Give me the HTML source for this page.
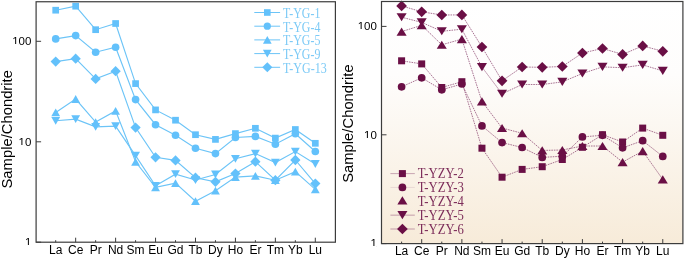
<!DOCTYPE html><html><head><meta charset="utf-8"><title>REE chondrite-normalized patterns</title><style>html,body{margin:0;padding:0;background:#fff;width:685px;height:259px;overflow:hidden}svg{display:block}text{font-family:"Liberation Sans",Arial,sans-serif}.s{font-family:"Liberation Serif","Times New Roman",serif}</style></head><body>
<svg width="685" height="259" viewBox="0 0 685 259">
<defs><linearGradient id="g" x1="0" y1="0" x2="0" y2="1"><stop offset="0" stop-color="#ffffff"/><stop offset="0.3" stop-color="#fefdfc"/><stop offset="1" stop-color="#f7ebd9"/></linearGradient></defs>
<polyline points="55.7,10.2 75.67,6.2 95.64,29.7 115.61,23.5 135.58,83.6 155.55,109.9 175.52,120.2 195.49,134.7 215.46,139.4 235.43,133.6 255.4,128.3 275.37,138.1 295.34,129.5 315.31,143.3" fill="none" stroke="#6cc4f7" stroke-width="1.15"/>
<polyline points="55.7,38.9 75.67,35.6 95.64,52.2 115.61,47.3 135.58,99.6 155.55,124.7 175.52,135.3 195.49,148.2 215.46,153.6 235.43,137.5 255.4,136.4 275.37,144.2 295.34,133.8 315.31,151.5" fill="none" stroke="#6cc4f7" stroke-width="1.15"/>
<polyline points="55.7,112.4 75.67,99 95.64,122.1 115.61,110.9 135.58,161.8 155.55,187.4 175.52,183.1 195.49,201.2 215.46,190.7 235.43,177.1 255.4,175.9 275.37,180.2 295.34,171.6 315.31,189.4" fill="none" stroke="#6cc4f7" stroke-width="1.15"/>
<polyline points="55.7,120.8 75.67,119.1 95.64,126.8 115.61,126.1 135.58,155.6 155.55,185.8 175.52,174.2 195.49,180 215.46,174.5 235.43,158.8 255.4,153.6 275.37,162.6 295.34,151.6 315.31,164" fill="none" stroke="#6cc4f7" stroke-width="1.15"/>
<polyline points="55.7,61.6 75.67,58.7 95.64,78.9 115.61,71.2 135.58,127.6 155.55,157.3 175.52,160.4 195.49,177.7 215.46,181.8 235.43,173.6 255.4,161.7 275.37,180.2 295.34,160 315.31,183.6" fill="none" stroke="#6cc4f7" stroke-width="1.15"/>
<rect x="52.35" y="6.85" width="6.7" height="6.7" fill="#63c1fb"/>
<rect x="72.32" y="2.85" width="6.7" height="6.7" fill="#63c1fb"/>
<rect x="92.29" y="26.35" width="6.7" height="6.7" fill="#63c1fb"/>
<rect x="112.26" y="20.15" width="6.7" height="6.7" fill="#63c1fb"/>
<rect x="132.23" y="80.25" width="6.7" height="6.7" fill="#63c1fb"/>
<rect x="152.2" y="106.55" width="6.7" height="6.7" fill="#63c1fb"/>
<rect x="172.17" y="116.85" width="6.7" height="6.7" fill="#63c1fb"/>
<rect x="192.14" y="131.35" width="6.7" height="6.7" fill="#63c1fb"/>
<rect x="212.11" y="136.05" width="6.7" height="6.7" fill="#63c1fb"/>
<rect x="232.08" y="130.25" width="6.7" height="6.7" fill="#63c1fb"/>
<rect x="252.05" y="124.95" width="6.7" height="6.7" fill="#63c1fb"/>
<rect x="272.02" y="134.75" width="6.7" height="6.7" fill="#63c1fb"/>
<rect x="291.99" y="126.15" width="6.7" height="6.7" fill="#63c1fb"/>
<rect x="311.96" y="139.95" width="6.7" height="6.7" fill="#63c1fb"/>
<circle cx="55.7" cy="38.9" r="3.82" fill="#63c1fb"/>
<circle cx="75.67" cy="35.6" r="3.82" fill="#63c1fb"/>
<circle cx="95.64" cy="52.2" r="3.82" fill="#63c1fb"/>
<circle cx="115.61" cy="47.3" r="3.82" fill="#63c1fb"/>
<circle cx="135.58" cy="99.6" r="3.82" fill="#63c1fb"/>
<circle cx="155.55" cy="124.7" r="3.82" fill="#63c1fb"/>
<circle cx="175.52" cy="135.3" r="3.82" fill="#63c1fb"/>
<circle cx="195.49" cy="148.2" r="3.82" fill="#63c1fb"/>
<circle cx="215.46" cy="153.6" r="3.82" fill="#63c1fb"/>
<circle cx="235.43" cy="137.5" r="3.82" fill="#63c1fb"/>
<circle cx="255.4" cy="136.4" r="3.82" fill="#63c1fb"/>
<circle cx="275.37" cy="144.2" r="3.82" fill="#63c1fb"/>
<circle cx="295.34" cy="133.8" r="3.82" fill="#63c1fb"/>
<circle cx="315.31" cy="151.5" r="3.82" fill="#63c1fb"/>
<path d="M55.7 108.51L60.12 116.29L51.28 116.29Z" fill="#63c1fb"/>
<path d="M75.67 95.11L80.09 102.89L71.25 102.89Z" fill="#63c1fb"/>
<path d="M95.64 118.21L100.06 125.99L91.22 125.99Z" fill="#63c1fb"/>
<path d="M115.61 107.01L120.03 114.79L111.19 114.79Z" fill="#63c1fb"/>
<path d="M135.58 157.91L140 165.69L131.16 165.69Z" fill="#63c1fb"/>
<path d="M155.55 183.51L159.97 191.29L151.13 191.29Z" fill="#63c1fb"/>
<path d="M175.52 179.21L179.94 186.99L171.1 186.99Z" fill="#63c1fb"/>
<path d="M195.49 197.31L199.91 205.09L191.07 205.09Z" fill="#63c1fb"/>
<path d="M215.46 186.81L219.88 194.59L211.04 194.59Z" fill="#63c1fb"/>
<path d="M235.43 173.21L239.85 180.99L231.01 180.99Z" fill="#63c1fb"/>
<path d="M255.4 172.01L259.82 179.79L250.98 179.79Z" fill="#63c1fb"/>
<path d="M275.37 176.31L279.79 184.09L270.95 184.09Z" fill="#63c1fb"/>
<path d="M295.34 167.71L299.76 175.49L290.92 175.49Z" fill="#63c1fb"/>
<path d="M315.31 185.51L319.73 193.29L310.89 193.29Z" fill="#63c1fb"/>
<path d="M51.28 116.91L60.12 116.91L55.7 124.69Z" fill="#63c1fb"/>
<path d="M71.25 115.21L80.09 115.21L75.67 122.99Z" fill="#63c1fb"/>
<path d="M91.22 122.91L100.06 122.91L95.64 130.69Z" fill="#63c1fb"/>
<path d="M111.19 122.21L120.03 122.21L115.61 129.99Z" fill="#63c1fb"/>
<path d="M131.16 151.71L140 151.71L135.58 159.49Z" fill="#63c1fb"/>
<path d="M151.13 181.91L159.97 181.91L155.55 189.69Z" fill="#63c1fb"/>
<path d="M171.1 170.31L179.94 170.31L175.52 178.09Z" fill="#63c1fb"/>
<path d="M191.07 176.11L199.91 176.11L195.49 183.89Z" fill="#63c1fb"/>
<path d="M211.04 170.61L219.88 170.61L215.46 178.39Z" fill="#63c1fb"/>
<path d="M231.01 154.91L239.85 154.91L235.43 162.69Z" fill="#63c1fb"/>
<path d="M250.98 149.71L259.82 149.71L255.4 157.49Z" fill="#63c1fb"/>
<path d="M270.95 158.71L279.79 158.71L275.37 166.49Z" fill="#63c1fb"/>
<path d="M290.92 147.71L299.76 147.71L295.34 155.49Z" fill="#63c1fb"/>
<path d="M310.89 160.11L319.73 160.11L315.31 167.89Z" fill="#63c1fb"/>
<path d="M55.7 56.47L60.83 61.6L55.7 66.73L50.57 61.6Z" fill="#63c1fb"/>
<path d="M75.67 53.57L80.8 58.7L75.67 63.83L70.54 58.7Z" fill="#63c1fb"/>
<path d="M95.64 73.77L100.77 78.9L95.64 84.03L90.51 78.9Z" fill="#63c1fb"/>
<path d="M115.61 66.07L120.74 71.2L115.61 76.33L110.48 71.2Z" fill="#63c1fb"/>
<path d="M135.58 122.47L140.71 127.6L135.58 132.73L130.45 127.6Z" fill="#63c1fb"/>
<path d="M155.55 152.17L160.68 157.3L155.55 162.43L150.42 157.3Z" fill="#63c1fb"/>
<path d="M175.52 155.27L180.65 160.4L175.52 165.53L170.39 160.4Z" fill="#63c1fb"/>
<path d="M195.49 172.57L200.62 177.7L195.49 182.83L190.36 177.7Z" fill="#63c1fb"/>
<path d="M215.46 176.67L220.59 181.8L215.46 186.93L210.33 181.8Z" fill="#63c1fb"/>
<path d="M235.43 168.47L240.56 173.6L235.43 178.73L230.3 173.6Z" fill="#63c1fb"/>
<path d="M255.4 156.57L260.53 161.7L255.4 166.83L250.27 161.7Z" fill="#63c1fb"/>
<path d="M275.37 175.07L280.5 180.2L275.37 185.33L270.24 180.2Z" fill="#63c1fb"/>
<path d="M295.34 154.87L300.47 160L295.34 165.13L290.21 160Z" fill="#63c1fb"/>
<path d="M315.31 178.47L320.44 183.6L315.31 188.73L310.18 183.6Z" fill="#63c1fb"/>
<rect x="36.1" y="1.75" width="299.3" height="240.45" fill="none" stroke="#3c3c3c" stroke-width="1.2"/>
<line x1="55.7" y1="242.2" x2="55.7" y2="240.2" stroke="#3c3c3c" stroke-width="1"/>
<text x="55.7" y="253.6" font-size="12" text-anchor="middle" fill="#000">La</text>
<line x1="75.67" y1="242.2" x2="75.67" y2="237.7" stroke="#3c3c3c" stroke-width="1"/>
<text x="75.67" y="253.6" font-size="12" text-anchor="middle" fill="#000">Ce</text>
<line x1="95.64" y1="242.2" x2="95.64" y2="240.2" stroke="#3c3c3c" stroke-width="1"/>
<text x="95.64" y="253.6" font-size="12" text-anchor="middle" fill="#000">Pr</text>
<line x1="115.61" y1="242.2" x2="115.61" y2="237.7" stroke="#3c3c3c" stroke-width="1"/>
<text x="115.61" y="253.6" font-size="12" text-anchor="middle" fill="#000">Nd</text>
<line x1="135.58" y1="242.2" x2="135.58" y2="240.2" stroke="#3c3c3c" stroke-width="1"/>
<text x="135.58" y="253.6" font-size="12" text-anchor="middle" fill="#000">Sm</text>
<line x1="155.55" y1="242.2" x2="155.55" y2="237.7" stroke="#3c3c3c" stroke-width="1"/>
<text x="155.55" y="253.6" font-size="12" text-anchor="middle" fill="#000">Eu</text>
<line x1="175.52" y1="242.2" x2="175.52" y2="240.2" stroke="#3c3c3c" stroke-width="1"/>
<text x="175.52" y="253.6" font-size="12" text-anchor="middle" fill="#000">Gd</text>
<line x1="195.49" y1="242.2" x2="195.49" y2="237.7" stroke="#3c3c3c" stroke-width="1"/>
<text x="195.49" y="253.6" font-size="12" text-anchor="middle" fill="#000">Tb</text>
<line x1="215.46" y1="242.2" x2="215.46" y2="240.2" stroke="#3c3c3c" stroke-width="1"/>
<text x="215.46" y="253.6" font-size="12" text-anchor="middle" fill="#000">Dy</text>
<line x1="235.43" y1="242.2" x2="235.43" y2="237.7" stroke="#3c3c3c" stroke-width="1"/>
<text x="235.43" y="253.6" font-size="12" text-anchor="middle" fill="#000">Ho</text>
<line x1="255.4" y1="242.2" x2="255.4" y2="240.2" stroke="#3c3c3c" stroke-width="1"/>
<text x="255.4" y="253.6" font-size="12" text-anchor="middle" fill="#000">Er</text>
<line x1="275.37" y1="242.2" x2="275.37" y2="237.7" stroke="#3c3c3c" stroke-width="1"/>
<text x="275.37" y="253.6" font-size="12" text-anchor="middle" fill="#000">Tm</text>
<line x1="295.34" y1="242.2" x2="295.34" y2="240.2" stroke="#3c3c3c" stroke-width="1"/>
<text x="295.34" y="253.6" font-size="12" text-anchor="middle" fill="#000">Yb</text>
<line x1="315.31" y1="242.2" x2="315.31" y2="237.7" stroke="#3c3c3c" stroke-width="1"/>
<text x="315.31" y="253.6" font-size="12" text-anchor="middle" fill="#000">Lu</text>
<line x1="36.1" y1="242.2" x2="41.1" y2="242.2" stroke="#3c3c3c" stroke-width="1"/>
<text x="25.01" y="246" font-size="11.5" fill="#000">1</text>
<rect x="25.11" y="245" width="6.14" height="2" fill="#fff"/>
<line x1="36.1" y1="141.8" x2="41.1" y2="141.8" stroke="#3c3c3c" stroke-width="1"/>
<text x="18.61" y="146" font-size="11.5" fill="#000">10</text>
<rect x="18.71" y="145" width="6.14" height="2" fill="#fff"/>
<line x1="36.1" y1="41.3" x2="41.1" y2="41.3" stroke="#3c3c3c" stroke-width="1"/>
<text x="12.22" y="45" font-size="11.5" fill="#000">100</text>
<rect x="12.32" y="44" width="6.14" height="2" fill="#fff"/>
<text transform="translate(12,129.3) rotate(-90)" font-size="14.8" text-anchor="middle" fill="#000">Sample/Chondrite</text>
<line x1="254.3" y1="12.5" x2="280.1" y2="12.5" stroke="#6cc4f7" stroke-width="1"/>
<rect x="264" y="9.2" width="6.6" height="6.6" fill="#63c1fb"/>
<text class="s" x="283.1" y="17.8" font-size="13.6" textLength="37.3" lengthAdjust="spacingAndGlyphs" fill="#7ccaf6">T-YG-1</text>
<line x1="254.3" y1="26.2" x2="280.1" y2="26.2" stroke="#6cc4f7" stroke-width="1"/>
<circle cx="267.3" cy="26.2" r="3.63" fill="#63c1fb"/>
<text class="s" x="283.1" y="31.55" font-size="13.6" textLength="37.3" lengthAdjust="spacingAndGlyphs" fill="#7ccaf6">T-YG-4</text>
<line x1="254.3" y1="39.9" x2="280.1" y2="39.9" stroke="#6cc4f7" stroke-width="1"/>
<path d="M267.3 36.07L271.66 43.73L262.94 43.73Z" fill="#63c1fb"/>
<text class="s" x="283.1" y="45.3" font-size="13.6" textLength="37.3" lengthAdjust="spacingAndGlyphs" fill="#7ccaf6">T-YG-5</text>
<line x1="254.3" y1="53.6" x2="280.1" y2="53.6" stroke="#6cc4f7" stroke-width="1"/>
<path d="M262.94 49.77L271.66 49.77L267.3 57.43Z" fill="#63c1fb"/>
<text class="s" x="283.1" y="59.05" font-size="13.6" textLength="37.3" lengthAdjust="spacingAndGlyphs" fill="#7ccaf6">T-YG-9</text>
<line x1="254.3" y1="67.3" x2="280.1" y2="67.3" stroke="#6cc4f7" stroke-width="1"/>
<path d="M267.3 62.25L272.35 67.3L267.3 72.35L262.25 67.3Z" fill="#63c1fb"/>
<text class="s" x="283.1" y="72.8" font-size="13.6" textLength="43.6" lengthAdjust="spacingAndGlyphs" fill="#7ccaf6">T-YG-13</text>
<rect x="381.5" y="1.5" width="301.4" height="242.1" fill="url(#g)"/>
<polyline points="401.6,60.8 421.69,63.9 441.78,87.5 461.87,81.7 481.96,148.2 502.05,177.2 522.14,169.4 542.23,166.7 562.32,159.5 582.41,147.3 602.5,134.7 622.59,142 642.68,128.1 662.77,135.3" fill="none" stroke="#8c4670" stroke-width="0.75" stroke-dasharray="1.6 0.9"/>
<polyline points="401.6,86.8 421.69,77.8 441.78,89.8 461.87,84 481.96,125.9 502.05,142.6 522.14,147.5 542.23,157.4 562.32,156.2 582.41,136.9 602.5,135.3 622.59,147.8 642.68,140.7 662.77,156.4" fill="none" stroke="#8c4670" stroke-width="0.75" stroke-dasharray="1.6 0.9"/>
<polyline points="401.6,31.6 421.69,25.3 441.78,44.8 461.87,39.1 481.96,101.4 502.05,128 522.14,133.3 542.23,150.4 562.32,150 582.41,146 602.5,146 622.59,162.1 642.68,151.1 662.77,179.4" fill="none" stroke="#8c4670" stroke-width="0.75" stroke-dasharray="1.6 0.9"/>
<polyline points="401.6,17.2 421.69,22.4 441.78,31.3 461.87,29.2 481.96,67.1 502.05,93.8 522.14,84.5 542.23,84.5 562.32,81.9 582.41,73.5 602.5,66.9 622.59,67.7 642.68,64.9 662.77,70.9" fill="none" stroke="#8c4670" stroke-width="0.75" stroke-dasharray="1.6 0.9"/>
<polyline points="401.6,5.9 421.69,11.8 441.78,15 461.87,14.9 481.96,47 502.05,80.8 522.14,67 542.23,67.3 562.32,66.5 582.41,53 602.5,48.5 622.59,54.4 642.68,45.9 662.77,51.3" fill="none" stroke="#8c4670" stroke-width="0.75" stroke-dasharray="1.6 0.9"/>
<rect x="398.1" y="57.3" width="7" height="7" fill="#6a0f45"/>
<rect x="418.19" y="60.4" width="7" height="7" fill="#6a0f45"/>
<rect x="438.28" y="84" width="7" height="7" fill="#6a0f45"/>
<rect x="458.37" y="78.2" width="7" height="7" fill="#6a0f45"/>
<rect x="478.46" y="144.7" width="7" height="7" fill="#6a0f45"/>
<rect x="498.55" y="173.7" width="7" height="7" fill="#6a0f45"/>
<rect x="518.64" y="165.9" width="7" height="7" fill="#6a0f45"/>
<rect x="538.73" y="163.2" width="7" height="7" fill="#6a0f45"/>
<rect x="558.82" y="156" width="7" height="7" fill="#6a0f45"/>
<rect x="578.91" y="143.8" width="7" height="7" fill="#6a0f45"/>
<rect x="599" y="131.2" width="7" height="7" fill="#6a0f45"/>
<rect x="619.09" y="138.5" width="7" height="7" fill="#6a0f45"/>
<rect x="639.18" y="124.6" width="7" height="7" fill="#6a0f45"/>
<rect x="659.27" y="131.8" width="7" height="7" fill="#6a0f45"/>
<circle cx="401.6" cy="86.8" r="3.85" fill="#6a0f45"/>
<circle cx="421.69" cy="77.8" r="3.85" fill="#6a0f45"/>
<circle cx="441.78" cy="89.8" r="3.85" fill="#6a0f45"/>
<circle cx="461.87" cy="84" r="3.85" fill="#6a0f45"/>
<circle cx="481.96" cy="125.9" r="3.85" fill="#6a0f45"/>
<circle cx="502.05" cy="142.6" r="3.85" fill="#6a0f45"/>
<circle cx="522.14" cy="147.5" r="3.85" fill="#6a0f45"/>
<circle cx="542.23" cy="157.4" r="3.85" fill="#6a0f45"/>
<circle cx="562.32" cy="156.2" r="3.85" fill="#6a0f45"/>
<circle cx="582.41" cy="136.9" r="3.85" fill="#6a0f45"/>
<circle cx="602.5" cy="135.3" r="3.85" fill="#6a0f45"/>
<circle cx="622.59" cy="147.8" r="3.85" fill="#6a0f45"/>
<circle cx="642.68" cy="140.7" r="3.85" fill="#6a0f45"/>
<circle cx="662.77" cy="156.4" r="3.85" fill="#6a0f45"/>
<path d="M401.6 27.54L406.64 35.66L396.56 35.66Z" fill="#6a0f45"/>
<path d="M421.69 21.24L426.73 29.36L416.65 29.36Z" fill="#6a0f45"/>
<path d="M441.78 40.74L446.82 48.86L436.74 48.86Z" fill="#6a0f45"/>
<path d="M461.87 35.04L466.91 43.16L456.83 43.16Z" fill="#6a0f45"/>
<path d="M481.96 97.34L487 105.46L476.92 105.46Z" fill="#6a0f45"/>
<path d="M502.05 123.94L507.09 132.06L497.01 132.06Z" fill="#6a0f45"/>
<path d="M522.14 129.24L527.18 137.36L517.1 137.36Z" fill="#6a0f45"/>
<path d="M542.23 146.34L547.27 154.46L537.19 154.46Z" fill="#6a0f45"/>
<path d="M562.32 145.94L567.36 154.06L557.28 154.06Z" fill="#6a0f45"/>
<path d="M582.41 141.94L587.45 150.06L577.37 150.06Z" fill="#6a0f45"/>
<path d="M602.5 141.94L607.54 150.06L597.46 150.06Z" fill="#6a0f45"/>
<path d="M622.59 158.04L627.63 166.16L617.55 166.16Z" fill="#6a0f45"/>
<path d="M642.68 147.04L647.72 155.16L637.64 155.16Z" fill="#6a0f45"/>
<path d="M662.77 175.34L667.81 183.46L657.73 183.46Z" fill="#6a0f45"/>
<path d="M396.56 13.14L406.64 13.14L401.6 21.26Z" fill="#6a0f45"/>
<path d="M416.65 18.34L426.73 18.34L421.69 26.46Z" fill="#6a0f45"/>
<path d="M436.74 27.24L446.82 27.24L441.78 35.36Z" fill="#6a0f45"/>
<path d="M456.83 25.14L466.91 25.14L461.87 33.26Z" fill="#6a0f45"/>
<path d="M476.92 63.04L487 63.04L481.96 71.16Z" fill="#6a0f45"/>
<path d="M497.01 89.74L507.09 89.74L502.05 97.86Z" fill="#6a0f45"/>
<path d="M517.1 80.44L527.18 80.44L522.14 88.56Z" fill="#6a0f45"/>
<path d="M537.19 80.44L547.27 80.44L542.23 88.56Z" fill="#6a0f45"/>
<path d="M557.28 77.84L567.36 77.84L562.32 85.96Z" fill="#6a0f45"/>
<path d="M577.37 69.44L587.45 69.44L582.41 77.56Z" fill="#6a0f45"/>
<path d="M597.46 62.84L607.54 62.84L602.5 70.96Z" fill="#6a0f45"/>
<path d="M617.55 63.64L627.63 63.64L622.59 71.76Z" fill="#6a0f45"/>
<path d="M637.64 60.84L647.72 60.84L642.68 68.96Z" fill="#6a0f45"/>
<path d="M657.73 66.84L667.81 66.84L662.77 74.96Z" fill="#6a0f45"/>
<path d="M401.6 0.54L406.96 5.9L401.6 11.26L396.25 5.9Z" fill="#6a0f45"/>
<path d="M421.69 6.45L427.05 11.8L421.69 17.16L416.33 11.8Z" fill="#6a0f45"/>
<path d="M441.78 9.64L447.14 15L441.78 20.36L436.43 15Z" fill="#6a0f45"/>
<path d="M461.87 9.54L467.23 14.9L461.87 20.26L456.51 14.9Z" fill="#6a0f45"/>
<path d="M481.96 41.64L487.32 47L481.96 52.36L476.61 47Z" fill="#6a0f45"/>
<path d="M502.05 75.44L507.41 80.8L502.05 86.16L496.69 80.8Z" fill="#6a0f45"/>
<path d="M522.14 61.64L527.5 67L522.14 72.36L516.78 67Z" fill="#6a0f45"/>
<path d="M542.23 61.94L547.59 67.3L542.23 72.66L536.88 67.3Z" fill="#6a0f45"/>
<path d="M562.32 61.14L567.68 66.5L562.32 71.86L556.97 66.5Z" fill="#6a0f45"/>
<path d="M582.41 47.64L587.77 53L582.41 58.36L577.06 53Z" fill="#6a0f45"/>
<path d="M602.5 43.14L607.86 48.5L602.5 53.86L597.14 48.5Z" fill="#6a0f45"/>
<path d="M622.59 49.05L627.95 54.4L622.59 59.75L617.24 54.4Z" fill="#6a0f45"/>
<path d="M642.68 40.55L648.04 45.9L642.68 51.25L637.33 45.9Z" fill="#6a0f45"/>
<path d="M662.77 45.94L668.12 51.3L662.77 56.66L657.41 51.3Z" fill="#6a0f45"/>
<rect x="381.5" y="1.5" width="301.4" height="242.1" fill="none" stroke="#3c3c3c" stroke-width="1.2"/>
<line x1="401.6" y1="243.6" x2="401.6" y2="241.6" stroke="#3c3c3c" stroke-width="1"/>
<text x="401.6" y="254.6" font-size="12" text-anchor="middle" fill="#000">La</text>
<line x1="421.69" y1="243.6" x2="421.69" y2="239.1" stroke="#3c3c3c" stroke-width="1"/>
<text x="421.69" y="254.6" font-size="12" text-anchor="middle" fill="#000">Ce</text>
<line x1="441.78" y1="243.6" x2="441.78" y2="241.6" stroke="#3c3c3c" stroke-width="1"/>
<text x="441.78" y="254.6" font-size="12" text-anchor="middle" fill="#000">Pr</text>
<line x1="461.87" y1="243.6" x2="461.87" y2="239.1" stroke="#3c3c3c" stroke-width="1"/>
<text x="461.87" y="254.6" font-size="12" text-anchor="middle" fill="#000">Nd</text>
<line x1="481.96" y1="243.6" x2="481.96" y2="241.6" stroke="#3c3c3c" stroke-width="1"/>
<text x="481.96" y="254.6" font-size="12" text-anchor="middle" fill="#000">Sm</text>
<line x1="502.05" y1="243.6" x2="502.05" y2="239.1" stroke="#3c3c3c" stroke-width="1"/>
<text x="502.05" y="254.6" font-size="12" text-anchor="middle" fill="#000">Eu</text>
<line x1="522.14" y1="243.6" x2="522.14" y2="241.6" stroke="#3c3c3c" stroke-width="1"/>
<text x="522.14" y="254.6" font-size="12" text-anchor="middle" fill="#000">Gd</text>
<line x1="542.23" y1="243.6" x2="542.23" y2="239.1" stroke="#3c3c3c" stroke-width="1"/>
<text x="542.23" y="254.6" font-size="12" text-anchor="middle" fill="#000">Tb</text>
<line x1="562.32" y1="243.6" x2="562.32" y2="241.6" stroke="#3c3c3c" stroke-width="1"/>
<text x="562.32" y="254.6" font-size="12" text-anchor="middle" fill="#000">Dy</text>
<line x1="582.41" y1="243.6" x2="582.41" y2="239.1" stroke="#3c3c3c" stroke-width="1"/>
<text x="582.41" y="254.6" font-size="12" text-anchor="middle" fill="#000">Ho</text>
<line x1="602.5" y1="243.6" x2="602.5" y2="241.6" stroke="#3c3c3c" stroke-width="1"/>
<text x="602.5" y="254.6" font-size="12" text-anchor="middle" fill="#000">Er</text>
<line x1="622.59" y1="243.6" x2="622.59" y2="239.1" stroke="#3c3c3c" stroke-width="1"/>
<text x="622.59" y="254.6" font-size="12" text-anchor="middle" fill="#000">Tm</text>
<line x1="642.68" y1="243.6" x2="642.68" y2="241.6" stroke="#3c3c3c" stroke-width="1"/>
<text x="642.68" y="254.6" font-size="12" text-anchor="middle" fill="#000">Yb</text>
<line x1="662.77" y1="243.6" x2="662.77" y2="239.1" stroke="#3c3c3c" stroke-width="1"/>
<text x="662.77" y="254.6" font-size="12" text-anchor="middle" fill="#000">Lu</text>
<line x1="381.5" y1="243.6" x2="386.5" y2="243.6" stroke="#3c3c3c" stroke-width="1"/>
<text x="370.51" y="247" font-size="11.5" fill="#000">1</text>
<rect x="370.61" y="246" width="6.14" height="2" fill="#fff"/>
<line x1="381.5" y1="134.8" x2="386.5" y2="134.8" stroke="#3c3c3c" stroke-width="1"/>
<text x="364.11" y="139" font-size="11.5" fill="#000">10</text>
<rect x="364.21" y="138" width="6.14" height="2" fill="#fff"/>
<line x1="381.5" y1="26.4" x2="386.5" y2="26.4" stroke="#3c3c3c" stroke-width="1"/>
<text x="357.72" y="30" font-size="11.5" fill="#000">100</text>
<rect x="357.82" y="29" width="6.14" height="2" fill="#fff"/>
<text transform="translate(353.2,123.6) rotate(-90)" font-size="14.8" text-anchor="middle" fill="#000">Sample/Chondrite</text>
<line x1="390.4" y1="173.6" x2="414.8" y2="173.6" stroke="#8c4670" stroke-width="0.9" stroke-opacity="0.5"/>
<rect x="398.9" y="170.1" width="7" height="7" fill="#6a0f45"/>
<text class="s" x="417.8" y="178" font-size="13.6" textLength="46" lengthAdjust="spacingAndGlyphs" fill="#7d2d5a">T-YZY-2</text>
<line x1="390.4" y1="187.45" x2="414.8" y2="187.45" stroke="#8c4670" stroke-width="0.9" stroke-opacity="0.15"/>
<circle cx="402.4" cy="187.45" r="3.85" fill="#6a0f45"/>
<text class="s" x="417.8" y="191.9" font-size="13.6" textLength="46" lengthAdjust="spacingAndGlyphs" fill="#7d2d5a">T-YZY-3</text>
<path d="M402.4 196.34L407.44 204.46L397.36 204.46Z" fill="#6a0f45"/>
<text class="s" x="417.8" y="205.8" font-size="13.6" textLength="46" lengthAdjust="spacingAndGlyphs" fill="#7d2d5a">T-YZY-4</text>
<line x1="390.4" y1="215.15" x2="414.8" y2="215.15" stroke="#8c4670" stroke-width="0.9" stroke-opacity="0.55"/>
<path d="M397.36 211.09L407.44 211.09L402.4 219.21Z" fill="#6a0f45"/>
<text class="s" x="417.8" y="219.7" font-size="13.6" textLength="46" lengthAdjust="spacingAndGlyphs" fill="#7d2d5a">T-YZY-5</text>
<line x1="390.4" y1="229" x2="414.8" y2="229" stroke="#8c4670" stroke-width="0.9" stroke-opacity="0.55"/>
<path d="M402.4 223.65L407.75 229L402.4 234.35L397.04 229Z" fill="#6a0f45"/>
<text class="s" x="417.8" y="233.6" font-size="13.6" textLength="46" lengthAdjust="spacingAndGlyphs" fill="#7d2d5a">T-YZY-6</text>
</svg></body></html>
